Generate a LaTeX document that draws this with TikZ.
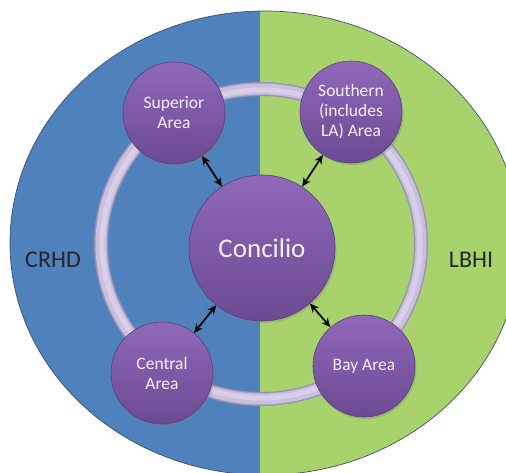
\documentclass[tikz,border=0pt]{standalone}
\usepackage{fontspec}
\setmainfont{Carlito}
\usetikzlibrary{arrows.meta,shadows}
\definecolor{bgblue}{HTML}{4F81BD}
\definecolor{bggreen}{HTML}{A8D26C}
\definecolor{edgedark}{HTML}{3A5070}
\definecolor{purtop}{HTML}{9068BA}
\definecolor{purbot}{HTML}{6C4A92}
\definecolor{purline}{HTML}{5A3D7C}
\definecolor{ringdark}{HTML}{9D92B8}
\definecolor{ringmid}{HTML}{C9C0DD}
\definecolor{ringlight}{HTML}{D8D0E8}
\definecolor{circtext}{HTML}{F6F0FA}
\tikzset{
  area/.style={circle, minimum size=102pt, inner sep=0pt, top color=purtop, bottom color=purbot,
    draw=purline, line width=0.6pt, text=circtext, align=center,
    font=\fontsize{17.5}{20}\selectfont,
    drop shadow={shadow xshift=1.5pt, shadow yshift=-2pt, opacity=0.35}},
  hub/.style={area, minimum size=146pt, font=\fontsize{27}{30}\selectfont},
  sidelabel/.style={text=black!85, font=\fontsize{24}{28}\selectfont},
  dbl/.style={{Stealth[length=9pt,width=8pt]}-{Stealth[length=9pt,width=8pt]}, line width=1.7pt, black}
}
\begin{document}
\begin{tikzpicture}[x=1pt,y=-1pt]
\useasboundingbox (0,0) rectangle (506,473);
% background halves clipped to ellipse
\begin{scope}
  \clip (265,243) ellipse [x radius=255pt, y radius=232pt];
  \fill[bgblue] (0,-10) rectangle (260,490);
  \fill[bggreen] (260,-10) rectangle (530,490);
\end{scope}
\draw[edgedark, line width=0.7pt] (265,243) ellipse [x radius=255pt, y radius=232pt];
% ring
\draw[ringdark, line width=14pt] (261,244) ellipse [x radius=160pt, y radius=155pt];
\draw[ringmid, line width=11pt] (261,244) ellipse [x radius=160pt, y radius=155pt];
\draw[ringlight, line width=5pt] (261,244) ellipse [x radius=159pt, y radius=154pt];
% side labels
\node[sidelabel] (crhd) at (53,260) {CRHD};
\node[sidelabel] (lbhi) at (471,260) {LBHI};
% circles
\node[hub] (con) at (262,248) {Concilio};
\node[area] (sup) at (174,113) {Superior\\Area};
\node[area] (sou) at (351,112) {Southern\\(includes\\LA) Area};
\node[area] (cen) at (162,373) {Central\\Area};
\node[area] (bay) at (364,366) {Bay Area};
% arrows
\draw[dbl] (sup) -- (con);
\draw[dbl] (sou) -- (con);
\draw[dbl] (cen) -- (con);
\draw[dbl] (bay) -- (con);
\end{tikzpicture}
\end{document}
